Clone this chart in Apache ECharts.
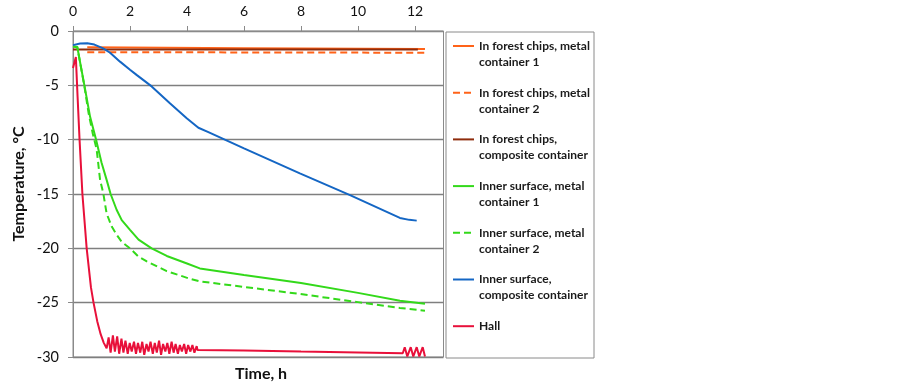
<!DOCTYPE html>
<html>
<head>
<meta charset="utf-8">
<script src="https://cdn.jsdelivr.net/npm/echarts@6/dist/echarts.min.js"></script>
<style>html,body{margin:0;padding:0;background:#fff;}#chart{width:902px;height:387px;}</style>
</head>
<body>
<div id="chart"></div>
<script>
// ---- data ----
const seriesNames = [
  'In forest chips, metal container 1',
  'In forest chips, metal container 2',
  'In forest chips, composite container',
  'Inner surface, metal container 1',
  'Inner surface, metal container 2',
  'Inner surface, composite container',
  'Hall'
];
const legendLabels = [
  ' \nIn forest chips, metal\ncontainer 1',
  ' \nIn forest chips, metal\ncontainer 2',
  ' \nIn forest chips,\ncomposite container',
  ' \nInner surface, metal\ncontainer 1',
  ' \nInner surface, metal\ncontainer 2',
  ' \nInner surface,\ncomposite container',
  ' \nHall\n '
];
const xTicks = [0, 2, 4, 6, 8, 10, 12];
const yTicks = [0, -5, -10, -15, -20, -25, -30];

const chipsMetal1 = [[0.5,-1.5],[6,-1.58],[12.35,-1.65]];
const chipsMetal2 = [[0.5,-1.95],[6,-1.97],[12.35,-2.0]];
const chipsComposite = [[0,-1.7],[6,-1.7],[12.1,-1.7]];
const surfMetal1 = [[0,-1.45],[0.15,-1.45],[0.25,-2.9],[0.4,-5.0],[0.6,-7.9],[0.81,-10.0],[1.0,-12.1],[1.18,-13.7],[1.32,-15.0],[1.53,-16.45],[1.71,-17.4],[2.0,-18.3],[2.3,-19.2],[2.76,-20.0],[3.29,-20.7],[4.0,-21.4],[4.45,-21.85],[6,-22.45],[8,-23.2],[10,-24.1],[11.47,-24.82],[12.35,-25.1]];
const surfMetal2 = [[0,-1.4],[0.15,-1.5],[0.25,-2.9],[0.4,-5.1],[0.55,-7.6],[0.69,-9.4],[0.83,-10.9],[0.95,-13.7],[1.06,-14.9],[1.18,-16.8],[1.36,-18.0],[1.53,-18.75],[1.71,-19.4],[2.0,-20.0],[2.29,-20.74],[2.59,-21.2],[3.29,-22.1],[4.1,-22.8],[4.46,-23.04],[6,-23.55],[7.96,-24.2],[10,-24.95],[11.47,-25.49],[12.35,-25.74]];
const surfComposite = [[0,-1.3],[0.25,-1.15],[0.5,-1.12],[0.75,-1.25],[1.06,-1.6],[1.3,-2.0],[1.65,-2.82],[2.0,-3.56],[2.23,-4.04],[2.76,-5.1],[3.4,-6.65],[3.99,-8.03],[4.4,-8.9],[4.75,-9.3],[6,-10.8],[7.96,-13.1],[9.72,-15.1],[11.47,-17.2],[11.8,-17.38],[12.06,-17.45]];
const hall = [[0,-3.4],[0.1,-2.4],[0.16,-6.0],[0.23,-10.0],[0.33,-15.0],[0.48,-20.0],[0.63,-23.6],[0.72,-25.0],[0.85,-26.7],[0.97,-27.9],[1.08,-28.7],[1.18,-29.2],
  [1.25,-28.2],[1.32,-29.6],[1.40,-28.0],[1.47,-29.5],[1.55,-28.1],[1.62,-29.7],[1.70,-28.3],[1.77,-29.6],[1.84,-28.5],[1.92,-29.7],
  [1.99,-28.7],[2.06,-29.5],[2.14,-28.6],[2.21,-29.7],[2.28,-28.7],[2.36,-29.6],[2.43,-28.6],[2.50,-29.8],[2.58,-28.8],[2.65,-29.5],
  [2.72,-28.6],[2.80,-29.7],[2.87,-28.7],[2.94,-29.6],[3.02,-28.5],[3.09,-29.8],[3.16,-28.8],[3.24,-29.5],[3.31,-28.7],[3.38,-29.7],
  [3.46,-28.6],[3.53,-29.6],[3.60,-28.8],[3.68,-29.7],[3.75,-28.9],[3.82,-29.5],[3.90,-28.8],[3.97,-29.7],[4.04,-28.9],[4.12,-29.5],
  [4.19,-28.9],[4.26,-29.6],[4.34,-29.0],[4.37,-29.35],[6,-29.4],[8,-29.5],[10,-29.58],[11.57,-29.65],
  [11.64,-29.1],[11.73,-29.95],[11.85,-29.1],[11.94,-29.95],[12.06,-29.1],[12.15,-29.95],[12.27,-29.1],[12.35,-29.95]];

const seriesData = [chipsMetal1, chipsMetal2, chipsComposite, surfMetal1, surfMetal2, surfComposite, hall];
const seriesColors = ['#FF6319', '#FF6319', '#8E2C0C', '#33D91A', '#33D91A', '#1466C4', '#E8103A'];
const seriesDashed = [false, true, false, false, true, false, false];

// ---- chart ----
const chart = echarts.init(document.getElementById('chart'), null, {renderer: 'canvas'});
const FONT = 'Lato, "Open Sans", sans-serif';

const series = seriesNames.map((n, i) => ({
  name: n,
  type: 'line',
  data: seriesData[i],
  symbol: 'none',
  smooth: false,
  lineStyle: {color: seriesColors[i], width: 2, type: seriesDashed[i] ? [7, 4] : 'solid'},
  itemStyle: {color: seriesColors[i]},
  z: 2 + i
}));

chart.setOption({
  animation: false,
  backgroundColor: '#fff',
  grid: {left: 73, top: 31, right: 458.5, bottom: 30, show: true, borderColor: '#8a8a8a', borderWidth: 1, containLabel: false},
  xAxis: {
    type: 'value', position: 'top', min: 0, max: 13,
    axisLine: {show: true, lineStyle: {color: '#8a8a8a', width: 1}},
    axisTick: {show: true, inside: false, length: 5, customValues: xTicks, lineStyle: {color: '#8a8a8a'}},
    axisLabel: {customValues: xTicks, margin: 13, color: '#111', fontFamily: FONT, fontSize: 14},
    splitLine: {show: false}
  },
  yAxis: {
    type: 'value', min: -30, max: 0, interval: 5,
    axisLine: {show: true, lineStyle: {color: '#8a8a8a', width: 1}},
    axisTick: {show: true, inside: false, length: 5, lineStyle: {color: '#8a8a8a'}},
    axisLabel: {margin: 14, color: '#111', fontFamily: FONT, fontSize: 14.5},
    splitLine: {show: true, lineStyle: {color: '#7f7f7f', width: 1.3}}
  },
  legend: {
    orient: 'vertical', left: 452, top: 22, padding: 0,
    itemWidth: 21, itemHeight: 10, itemGap: -1.3, itemTextGap: 3,
    itemStyle: {opacity: 0},
    data: seriesNames,
    formatter: name => legendLabels[seriesNames.indexOf(name)],
    textStyle: {fontFamily: FONT, fontWeight: 'bold', fontSize: 12, lineHeight: 16, color: '#1a1a1a'},
    selectedMode: false
  },
  graphic: [
    {type: 'rect', shape: {x: 446, y: 32, width: 148, height: 326}, style: {fill: null, stroke: '#8a8a8a', lineWidth: 1}, silent: true},
    {type: 'text', x: 19, y: 184, rotation: Math.PI / 2, style: {text: 'Temperature, °C', font: 'bold 16px ' + FONT, fill: '#111', textAlign: 'center', textVerticalAlign: 'middle'}},
    {type: 'text', x: 261, y: 374, style: {text: 'Time, h', font: 'bold 16px ' + FONT, fill: '#111', textAlign: 'center', textVerticalAlign: 'middle'}}
  ],
  series: series
});
</script>
</body>
</html>
